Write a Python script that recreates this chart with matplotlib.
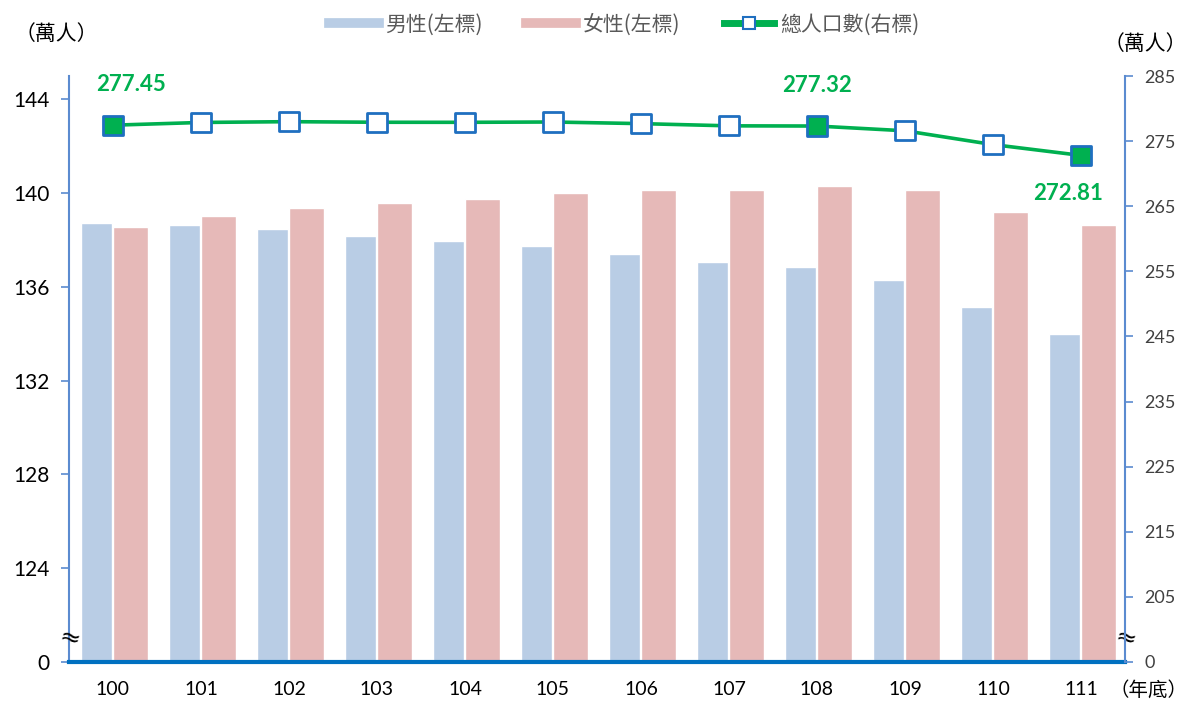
import matplotlib.pyplot as plt
from matplotlib.lines import Line2D
import numpy as np

plt.rcParams['font.family'] = ['Lato', 'Noto Sans CJK TC', 'DejaVu Sans']

years = ['100', '101', '102', '103', '104', '105', '106', '107', '108', '109', '110', '111']
male = [138.72, 138.66, 138.46, 138.18, 137.96, 137.76, 137.41, 137.07, 136.86, 136.29, 135.15, 134.01]
female = [138.56, 139.04, 139.37, 139.57, 139.77, 140.01, 140.13, 140.14, 140.32, 140.14, 139.19, 138.63]
total = [277.45, 277.87, 277.99, 277.90, 277.89, 277.94, 277.69, 277.35, 277.32, 276.59, 274.47, 272.81]
highlight = [0, 8, 11]

left_ticks = [120, 124, 128, 132, 136, 140, 144]
left_labels = ['0', '124', '128', '132', '136', '140', '144']
right_ticks = [195, 205, 215, 225, 235, 245, 255, 265, 275, 285]
right_labels = ['0', '205', '215', '225', '235', '245', '255', '265', '275', '285']

blue_axis = '#5B8BD0'
green = '#00B050'

fig = plt.figure(figsize=(11.95, 7.04), dpi=100)
ax = fig.add_axes([0.0577, 0.0597, 0.8837, 0.8323])
x = np.arange(len(years))
base = 120
ax.bar(x - 0.19, np.array(male) - base, bottom=base, width=0.35, color='#B9CDE5',
       edgecolor='white', linewidth=1, zorder=2)
ax.bar(x + 0.2, np.array(female) - base, bottom=base, width=0.40, color='#E6B9B8',
       edgecolor='white', linewidth=1, zorder=2)
ax.set_xlim(-0.5, len(years) - 0.5)
ax.set_ylim(120, 145)
ax.set_yticks(left_ticks)
ax.set_yticklabels(left_labels)
ax.set_xticks(x)
ax.set_xticklabels(years)
ax.tick_params(axis='y', direction='out', length=6, width=1.2, color=blue_axis,
               labelsize=15, labelcolor='black', pad=8)
ax.tick_params(axis='x', length=0, labelsize=14, pad=14)
for s in ['top', 'right']:
    ax.spines[s].set_visible(False)
ax.spines['left'].set_color(blue_axis)
ax.spines['left'].set_linewidth(1.5)
ax.spines['bottom'].set_color('#0070C0')
ax.spines['bottom'].set_linewidth(3)
ax.spines['bottom'].set_zorder(5)

ax2 = ax.twinx()
ax2.set_ylim(195, 285)
ax2.set_yticks(right_ticks)
ax2.set_yticklabels(right_labels)
ax2.tick_params(axis='y', direction='out', length=6, width=1.2, color=blue_axis,
                labelsize=13, labelcolor='#404040', pad=8)
for s in ['top', 'left', 'bottom']:
    ax2.spines[s].set_visible(False)
ax2.spines['right'].set_color(blue_axis)
ax2.spines['right'].set_linewidth(1.5)

ax2.plot(x, total, color=green, linewidth=2.6, zorder=3)
face = ['#00B050' if i in highlight else 'white' for i in range(len(x))]
ax2.scatter(x, total, marker='s', s=190, c=face, edgecolors='#1F6FC0', linewidths=2, zorder=4)

ax2.text(x[0] + 0.2, total[0] + 6.2, f'{total[0]:.2f}', color=green, fontsize=16,
         fontweight='bold', ha='center', va='center')
ax2.text(x[8], total[8] + 6.2, f'{total[8]:.2f}', color=green, fontsize=16,
         fontweight='bold', ha='center', va='center')
ax2.text(x[11] - 0.15, total[11] - 5.9, f'{total[11]:.2f}', color=green, fontsize=16,
         fontweight='bold', ha='center', va='center')

# axis break marks
ax.text(0, 0.0375, '≈', transform=ax.transAxes, ha='center', va='center', fontsize=18,
        family='DejaVu Sans', rotation=-15)
ax.text(1, 0.0375, '≈', transform=ax.transAxes, ha='center', va='center', fontsize=18,
        family='DejaVu Sans', rotation=-15)

fig.text(0.047, 0.952, '（萬人）', ha='center', va='center', fontsize=15,
         family='Noto Sans CJK TC')
fig.text(0.958, 0.937, '（萬人）', ha='center', va='center', fontsize=15,
         family='Noto Sans CJK TC')
fig.text(0.961, 0.020, '（年底）', ha='center', va='center', fontsize=14,
         family='Noto Sans CJK TC')

handles = [
    Line2D([0], [0], color='#B9CDE5', linewidth=7),
    Line2D([0], [0], color='#E6B9B8', linewidth=7),
    Line2D([0], [0], color=green, linewidth=5, marker='s', markersize=9,
           markerfacecolor='white', markeredgecolor='#1F6FC0', markeredgewidth=1.5),
]
fig.legend(handles, ['男性(左標)', '女性(左標)', '總人口數(右標)'], loc='center',
           bbox_to_anchor=(0.522, 0.965), ncol=3, frameon=False,
           labelcolor='#595959', handlelength=2.4, handletextpad=0.3, columnspacing=2.1,
           prop={'family': ['Noto Sans CJK TC'], 'size': 15})

fig.savefig('out.png', dpi=100)
